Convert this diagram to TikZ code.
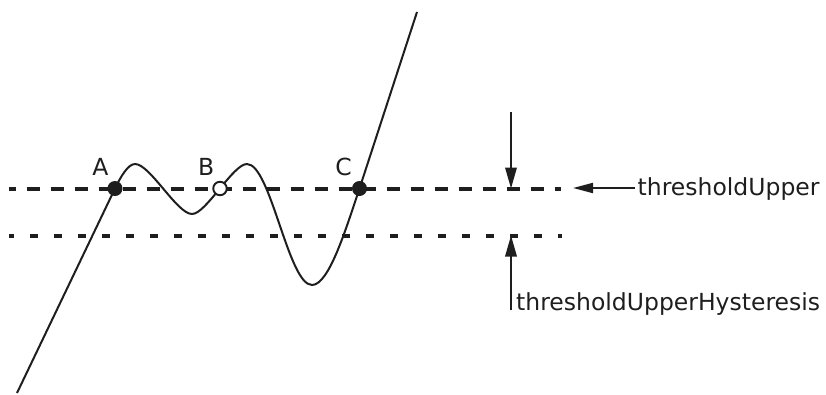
\documentclass[tikz,border=0pt]{standalone}
\usepackage{fontspec}
\setmainfont{DejaVu Sans}
\usetikzlibrary{arrows.meta}
\definecolor{ink}{RGB}{30,30,30}
\begin{document}
\begin{tikzpicture}[x=1pt,y=-1pt,
  lbl/.style={font=\fontsize{23.5}{28}\selectfont, text=ink, inner sep=0pt},
  curve/.style={draw=ink, line width=2pt, line join=round},
  thr/.style={draw=ink, line width=4pt},
  dashedthr/.style={thr, dash pattern=on 13.5pt off 10.5pt, dash phase=6.3pt},
  dottedthr/.style={thr, dash pattern=on 7.5pt off 16.5pt, dash phase=3pt},
  arrv/.style={draw=ink, line width=1.9pt, -{Triangle[length=21pt,width=11.5pt]}},
  arrh/.style={draw=ink, line width=1.9pt, -{Triangle[length=20pt,width=10pt]}},
  fulldot/.style={circle, fill=ink, minimum size=15pt, inner sep=0pt},
  opendot/.style={circle, draw=ink, fill=white, line width=1.9pt, minimum size=13.5pt, inner sep=0pt}
]
\useasboundingbox (0,0) rectangle (826,394);
% threshold lines
\coordinate (hl) at (9,188.5);
\coordinate (hr) at (561,188.5);
\coordinate (ll) at (9,235.5);
\coordinate (lr) at (562,235.5);
\draw[dashedthr] (hl) -- (hr);
\draw[dottedthr] (ll) -- (lr);
% curve
\coordinate (s0) at (17,393);
\coordinate (pA) at (115,188.5);
\coordinate (pk1) at (135,164);
\coordinate (tr1) at (192,214);
\coordinate (pk2) at (247,164);
\coordinate (tr2) at (312,285);
\coordinate (pC) at (359.5,188.5);
\coordinate (s1) at (417,12);
\draw[curve] (s0) -- (pA) .. controls (120.5,177) and (128,164) .. (pk1)
  .. controls (150,164) and (177,214) .. (tr1)
  .. controls (206,214) and (233,164) .. (pk2)
  .. controls (270.6,164) and (288.4,285) .. (tr2)
  .. controls (329,285) and (346,228.5) .. (pC) -- (s1);
% points
\node[fulldot] (A) at (pA) {};
\node[opendot] (B) at (220,188.5) {};
\node[fulldot] (C) at (pC) {};
\node[lbl, anchor=base] (la) at (100.5,175) {A};
\node[lbl, anchor=base] (lb) at (206.3,175) {B};
\node[lbl, anchor=base] (lc) at (343.5,175) {C};
% arrows
\coordinate (dtop) at (511,112);
\coordinate (dtip) at (511,188.5);
\draw[arrv] (dtop) -- (dtip);
\coordinate (ubot) at (511,310);
\coordinate (utip) at (511,235.5);
\draw[arrv] (ubot) -- (utip);
\node[lbl, anchor=base west] (tu) at (637.5,195) {thresholdUpper};
\coordinate (lstart) at (635,188);
\coordinate (ltip) at (573,188);
\draw[arrh] (lstart) -- (ltip);
\node[lbl, anchor=base west] (tuh) at (516,310) {thresholdUpperHysteresis};
\end{tikzpicture}
\end{document}
